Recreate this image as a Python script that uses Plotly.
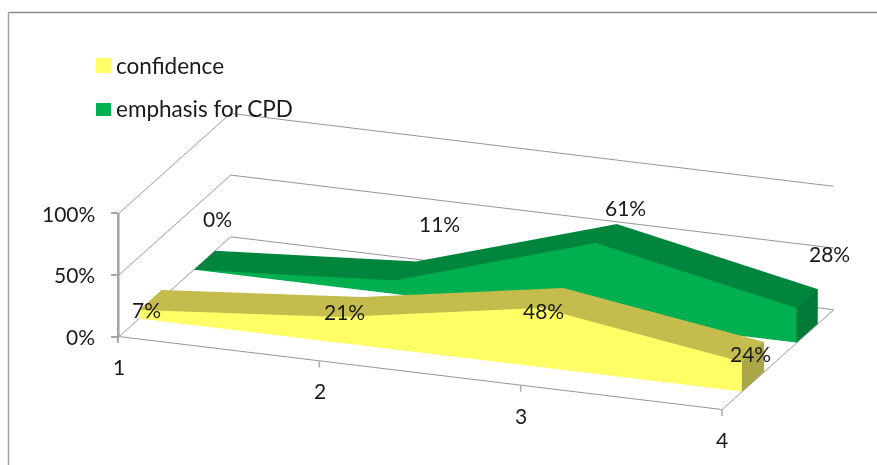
import plotly.graph_objects as go
import math

categories = [1, 2, 3, 4]
confidence = [7, 21, 48, 24]
emphasis = [0, 11, 61, 28]
z_ticks = [0, 50, 100]
series_names = ["confidence", "emphasis for CPD"]

FONT = "Lato"
GRID = "#969696"
TICK = "#a6a6a6"
TXT = "#1a1a1a"
YELLOW = "#FFFF66"
GREEN = "#00B050"

az = math.radians(20.2)
el = math.radians(19.2)
R = 2.0
S = 233.0
W, H = 877, 465
d = (math.sin(az) * math.cos(el), -math.cos(az) * math.cos(el), math.sin(el))
r = (math.cos(az), math.sin(az), 0)
u = (-math.sin(el) * math.sin(az), math.sin(el) * math.cos(az), math.cos(el))
SHIFT_X, SHIFT_Y = 38, 29
c = [(-SHIFT_X / S) * r[n] + (SHIFT_Y / S) * u[n] for n in range(3)]
center = dict(x=c[0], y=c[1], z=c[2])
eye = dict(x=c[0] + R * d[0], y=c[1] + R * d[1], z=c[2] + R * d[2])


def band(name, values, d0, d1, front, top, side):
    n = len(categories)
    xs, ys, zs = [], [], []
    for cat, v in zip(categories, values):
        xs += [cat, cat, cat]
        ys += [d0, d0, d1]
        zs += [0, v, v]
    xs.append(categories[-1]); ys.append(d1); zs.append(0)
    i, j, k, fc = [], [], [], []
    for m in range(n - 1):
        a = 3 * m
        b = 3 * (m + 1)
        i += [a, a]; j += [b, b + 1]; k += [b + 1, a + 1]; fc += [front, front]
        i += [a + 1, a + 1]; j += [b + 1, b + 2]; k += [b + 2, a + 2]; fc += [top, top]
    last = 3 * (n - 1)
    i += [last, last]; j += [last + 1, last + 2]; k += [last + 2, len(xs) - 1]; fc += [side, side]
    return go.Mesh3d(x=xs, y=ys, z=zs, i=i, j=j, k=k, facecolor=fc, flatshading=True,
                     lighting=dict(ambient=1, diffuse=0, specular=0, fresnel=0, roughness=1),
                     hoverinfo="skip", showlegend=False, name=name)


fig = go.Figure()
fig.add_trace(band(series_names[0], confidence, 0.18, 0.38, YELLOW, "#C4BD4E", "#ABA647"))
fig.add_trace(band(series_names[1], emphasis, 0.67, 0.86, GREEN, "#00863C", "#007A36"))

lab_font = dict(family=FONT, size=21, color=TXT)
labels = []
conf_shift = [(0, -7), (-3, -1), (-5, -10), (1, 1)]
emph_shift = [(-2, 28), (19, 34), (4, 13), (7, 32)]
for cat, v, (dx, dy) in zip(categories, confidence, conf_shift):
    labels.append(dict(x=cat, y=0.25, z=v, text=f"{v}%", showarrow=False, xshift=dx, yshift=dy, font=lab_font))
for cat, v, (dx, dy) in zip(categories, emphasis, emph_shift):
    labels.append(dict(x=cat, y=0.9, z=v, text=f"{v}%", showarrow=False, xshift=dx, yshift=dy, font=lab_font))
for t in z_ticks:
    labels.append(dict(x=categories[0], y=0, z=t, text=f"{t}%", showarrow=False, xanchor="right", xshift=-22,
                       yshift=0, font=lab_font))
for cat in categories:
    labels.append(dict(x=cat, y=0, z=0, text=str(cat), showarrow=False, xshift=0, yshift=-30, font=lab_font))

common = dict(showbackground=False, showspikes=False, showline=True, linecolor=GRID, linewidth=2,
              title=dict(text=""), zeroline=False, showticklabels=False, ticks="")


def px(x0, y0, x1, y1, col, width):
    return dict(type="line", xref="paper", yref="paper", x0=x0 / W, x1=x1 / W, y0=1 - y0 / H, y1=1 - y1 / H,
                line=dict(color=col, width=width))


legend_boxes = [(58, 73), (103, 116)]
legend_text_y = [65, 108]
legend_cols = [YELLOW, GREEN]
OX, OY, XLEN, XDROP, ZLEN = 118, 337, 604, 73, 124
shapes = [px(8.5, 12.5, W, 12.5, "#8c8c8c", 1.5), px(8.5, 12.5, 8.5, H, "#a0a0a0", 1.5),
          px(OX, OY + 6, OX, OY - ZLEN, TICK, 2)]
for t in z_ticks:
    y = OY - ZLEN * t / z_ticks[-1]
    shapes.append(px(OX - 7, y, OX, y, TICK, 2))
for cat in categories:
    f = (cat - categories[0]) / (categories[-1] - categories[0])
    shapes.append(px(OX + XLEN * f, OY + XDROP * f, OX + XLEN * f, OY + XDROP * f + 6, TICK, 1.5))
annots = []
for nm, col, (b0, b1), ly in zip(series_names, legend_cols, legend_boxes, legend_text_y):
    shapes.append(dict(type="rect", xref="paper", yref="paper", x0=96 / W, x1=111 / W,
                       y0=1 - b0 / H, y1=1 - b1 / H, fillcolor=col, line=dict(width=0)))
    annots.append(dict(xref="paper", yref="paper", x=114 / W, y=1 - ly / H, xanchor="left", yanchor="middle",
                       text=nm, showarrow=False, font=dict(family=FONT, size=22.5, color=TXT)))

fig.update_layout(
    width=W, height=H, autosize=False,
    margin=dict(l=0, r=0, t=0, b=0),
    paper_bgcolor="white", font=dict(family=FONT, size=21, color=TXT),
    showlegend=False,
    scene=dict(
        domain=dict(x=[0, 1], y=[0, 1]),
        aspectmode="manual", aspectratio=dict(x=644 / S, y=324 / S, z=131 / S),
        camera=dict(eye=eye, up=dict(x=0, y=0, z=1), center=center,
                    projection=dict(type="orthographic")),
        xaxis=dict(range=[1, 4.002], tickvals=categories, showgrid=False, **common),
        yaxis=dict(range=[0, 1], showgrid=False, **common),
        zaxis=dict(range=[0, 100], tickvals=z_ticks, showgrid=True, gridcolor=GRID, gridwidth=2, **common),
        annotations=labels,
    ),
    shapes=shapes,
    annotations=annots,
)
fig.write_html("out.html", config=dict(displayModeBar=False), post_script="document.body.style.margin='0';")
